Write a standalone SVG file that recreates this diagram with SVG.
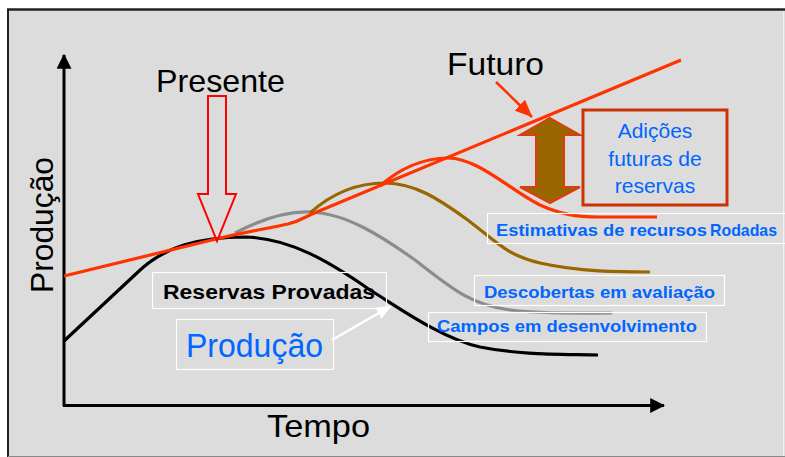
<svg xmlns="http://www.w3.org/2000/svg" width="785" height="457" viewBox="0 0 785 457">
<defs>
<style>
.big{font-family:"Liberation Sans",Arial,sans-serif;font-size:32px;fill:#000}
.blue{fill:#0066ff;font-family:"Liberation Sans",Arial,sans-serif}
.lbl{font-family:"Liberation Sans",Arial,sans-serif;font-weight:bold;font-size:17px;fill:#0066ff}
.box{fill:none;stroke:#ffffff;stroke-width:1.2}
.curve{fill:none;stroke-width:3.2;stroke-linejoin:round;stroke-linecap:butt}
</style>
<marker id="ahBlack" markerWidth="5" markerHeight="5" refX="4.6" refY="2.5" orient="auto" markerUnits="strokeWidth"><path d="M0,0 L5,2.5 L0,5 Z" fill="#000"/></marker>
<marker id="ahRed" markerWidth="7" markerHeight="6" refX="6.8" refY="3" orient="auto" markerUnits="strokeWidth"><path d="M0,0 L7,3 L0,6 Z" fill="#ff3300"/></marker>
<marker id="ahWhite" markerWidth="6" markerHeight="5" refX="5.8" refY="2.5" orient="auto" markerUnits="strokeWidth"><path d="M0,0 L6,2.5 L0,5 Z" fill="#ffffff"/></marker>
</defs>
<rect x="0" y="0" width="785" height="457" fill="#ffffff"/>
<rect x="8" y="9" width="777" height="448" fill="#dcdcdc"/>
<line x1="7" y1="9.5" x2="785" y2="9.5" stroke="#222" stroke-width="2.5"/>
<line x1="8" y1="9" x2="8" y2="457" stroke="#222" stroke-width="2"/>
<line x1="8" y1="456.5" x2="785" y2="456.5" stroke="#888" stroke-width="1"/>
<line x1="783.5" y1="11" x2="783.5" y2="456" stroke="#f2f2f2" stroke-width="1"/>

<g id="axes">
<line x1="64" y1="406" x2="64" y2="55" stroke="#000" stroke-width="3" marker-end="url(#ahBlack)"/>
<line x1="63" y1="405.5" x2="664" y2="405.5" stroke="#000" stroke-width="3" marker-end="url(#ahBlack)"/>
</g>

<g id="connectors">
<path class="curve" stroke="#000" d="M64,341 L138,272 C165,246 200,237 245,237 C290,238 330,262 370,290 C395,305 440,338 480,347 C520,355 560,354 598,355"/>
<path class="curve" stroke="#8c8c8c" d="M235,233 C260,220 285,211 310,212 C345,213 380,235 415,260 C450,287 470,305 510,310 C540,314 580,313 612,313"/>
<path class="curve" stroke="#996600" d="M310,213 C330,195 355,183 385,183 C415,183 440,200 465,218 C495,240 505,255 540,263 C580,272 620,272 650,272"/>
<path class="curve" stroke="#ff3300" d="M64,276 L216,239 C245,232 270,228 288,224 C300,221 305,217 312,214 L681,60"/>
<path class="curve" stroke="#ff3300" d="M380,186 C398,170 422,158 448,158 C478,158 510,190 540,205 C560,214 575,217 600,217 L657,217"/>
<line x1="496" y1="82" x2="532" y2="117" stroke="#ff3300" stroke-width="2.5" marker-end="url(#ahRed)"/>
<line x1="332" y1="340" x2="391" y2="306" stroke="#ffffff" stroke-width="2.5" marker-end="url(#ahWhite)"/>
</g>

<g id="presente">
<text class="big" x="156" y="92" textLength="129" lengthAdjust="spacingAndGlyphs">Presente</text>
<polygon points="208,96 226,96 226,194 236,194 217,241 198,194 208,194" fill="none" stroke="#ff0000" stroke-width="2"/>
</g>

<g id="futuro">
<text class="big" x="447" y="75" textLength="97" lengthAdjust="spacingAndGlyphs">Futuro</text>
</g>

<g id="eixo-y">
<text class="big" transform="translate(53,293) rotate(-90)" x="0" y="0" textLength="136" lengthAdjust="spacingAndGlyphs">Produção</text>
</g>

<g id="eixo-x">
<text class="big" x="267" y="437" textLength="103" lengthAdjust="spacingAndGlyphs">Tempo</text>
</g>

<g id="seta-dupla">
<polygon points="550,118 580,135 564,135 564,187 580,187 550,203 520,187 536,187 536,135 520,135" fill="#996600" stroke="#dd3c0c" stroke-width="2" stroke-linejoin="miter"/>
</g>

<g id="adicoes">
<rect x="583" y="110" width="144" height="95" fill="none" stroke="#cc3300" stroke-width="3"/>
<text class="blue" font-size="21" text-anchor="middle" x="655" y="138">Adições</text>
<text class="blue" font-size="21" text-anchor="middle" x="655" y="166">futuras de</text>
<text class="blue" font-size="21" text-anchor="middle" x="655" y="193">reservas</text>
</g>

<g id="estimativas">
<rect class="box" x="487.5" y="213.5" width="310" height="30"/>
<text class="lbl" x="496" y="236" textLength="211" lengthAdjust="spacingAndGlyphs">Estimativas de recursos</text>
<text class="blue" font-size="17" font-weight="bold" x="710" y="236" textLength="67" lengthAdjust="spacingAndGlyphs">Rodadas</text>
</g>

<g id="descobertas">
<rect class="box" x="474.5" y="275.5" width="250" height="30"/>
<text class="lbl" x="484" y="298" textLength="231" lengthAdjust="spacingAndGlyphs">Descobertas em avaliação</text>
</g>

<g id="campos">
<rect class="box" x="428.5" y="312.5" width="278" height="29"/>
<text class="lbl" x="437" y="332" textLength="260" lengthAdjust="spacingAndGlyphs">Campos em desenvolvimento</text>
</g>

<g id="reservas-provadas">
<rect class="box" x="152.5" y="272.5" width="234" height="36"/>
<text x="163" y="299" font-family="Liberation Sans, Arial, sans-serif" font-weight="bold" font-size="20" fill="#000" textLength="212" lengthAdjust="spacingAndGlyphs">Reservas Provadas</text>
</g>

<g id="producao">
<rect class="box" x="176.5" y="319.5" width="157" height="50"/>
<text class="blue" font-size="33" x="186" y="357" textLength="137" lengthAdjust="spacingAndGlyphs">Produção</text>
</g>
</svg>
